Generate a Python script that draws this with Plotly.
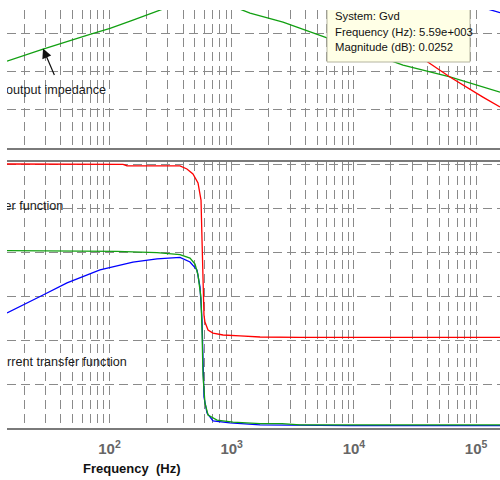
import math
import plotly.graph_objects as go

# ---- upper panel: magnitudes in dB ----
zo_freq = [14.5, 28.6, 69.2, 101, 155.6, 244.7, 300, 400, 500, 570, 650, 800, 1000,
           1334, 1413, 2630, 6370, 20890, 25240, 61090, 157000]
zo_db = [-34.6, -28.3, -20.6, -17.5, -13.2, -8.5, -6.7, -3.5, 2.0, 12.0, 4.0, -2.5, -5.8,
         -8.9, -9.5, -14.2, -23.1, -35.1, -36.7, -42.9, -50.8]

gvd_freq = [14.5, 100, 300, 500, 570, 650, 1000, 2000, 5590, 39900, 61090, 113700, 157000]
gvd_db = [34.0, 34.3, 36.0, 42.0, 50.0, 40.0, 28.0, 17.9, 0.0252, -34.9, -42.9, -53.4, -58.6]

zi_freq = [14.5, 1000, 10000, 50000, 100000, 134900, 157000]
zi_db = [5.0, 5.0, 5.0, 0.0, -5.6, -8.3, -9.3]

# ---- lower panel: linear magnitudes ----
red_freq = [14.5, 129, 139, 377.6, 430, 482, 530, 561, 571.6, 582.3, 593, 604, 640, 703,
            849, 1170, 1706, 3620, 157000]
red_mag = [1.201, 1.199, 1.193, 1.192, 1.178, 1.156, 1.115, 1.037, 0.855, 0.628, 0.514,
           0.482, 0.446, 0.432, 0.423, 0.419, 0.414, 0.412, 0.412]

grn_freq = [14.5, 115, 244.7, 377.6, 455.9, 501, 530, 561, 571.6, 582.3, 604, 640, 758,
            1025, 1706, 2583, 3620, 157000]
grn_mag = [0.807, 0.803, 0.798, 0.789, 0.773, 0.746, 0.696, 0.591, 0.446, 0.241, 0.114,
           0.059, 0.036, 0.027, 0.020, 0.020, 0.014, 0.014]

blu_freq = [14.5, 16.9, 28.6, 44.9, 83.6, 155.6, 244.7, 377.6, 455.9, 520, 550.5, 571.6,
            582.3, 593.1, 628, 703, 968, 1706, 9290, 157000]
blu_mag = [0.523, 0.541, 0.605, 0.660, 0.719, 0.755, 0.769, 0.776, 0.755, 0.719, 0.641,
           0.491, 0.309, 0.141, 0.068, 0.032, 0.023, 0.014, 0.011, 0.011]

# data tip on Gvd
tip_freq = 5590
tip_db = 0.0252

W, H = 500, 480
ML, MR, MT, MB = 7, 0, 10, 52
PW, PH = W - ML - MR, H - MT - MB


def xp(px):
    return (px - ML) / PW


def yp(py):
    return (H - MB - py) / PH


def f_at(px):
    # frequency at a horizontal pixel position
    return 10 ** (1.1612 + (px - ML) / 122.2)


FONT = "Liberation Sans, Arial, sans-serif"
GRID = "#8a8a8a"
DASH = "9px,5px"
AXC = "#7a7a7a"

fig = go.Figure()

lw = 1.3
fig.add_trace(go.Scatter(x=zo_freq, y=zo_db, mode="lines", line=dict(color="#12a012", width=lw),
                         xaxis="x", yaxis="y", showlegend=False, hoverinfo="skip"))
fig.add_trace(go.Scatter(x=gvd_freq, y=gvd_db, mode="lines", line=dict(color="#ff0000", width=lw),
                         xaxis="x", yaxis="y", showlegend=False, hoverinfo="skip"))
fig.add_trace(go.Scatter(x=zi_freq, y=zi_db, mode="lines", line=dict(color="#0000ff", width=lw),
                         xaxis="x", yaxis="y", showlegend=False, hoverinfo="skip"))

fig.add_trace(go.Scatter(x=red_freq, y=red_mag, mode="lines", line=dict(color="#ff0000", width=lw),
                         xaxis="x2", yaxis="y2", showlegend=False, hoverinfo="skip"))
fig.add_trace(go.Scatter(x=blu_freq, y=blu_mag, mode="lines", line=dict(color="#0000ff", width=lw),
                         xaxis="x2", yaxis="y2", showlegend=False, hoverinfo="skip"))
fig.add_trace(go.Scatter(x=grn_freq, y=grn_mag, mode="lines", line=dict(color="#12a012", width=lw),
                         xaxis="x2", yaxis="y2", showlegend=False, hoverinfo="skip"))

# curve labels, clipped at the left edge of the axes
lab_font = dict(family=FONT, size=12.6, color="#1a1a1a")
fig.add_trace(go.Scatter(x=[f_at(6)], y=[-50.0], mode="text", text=["output impedance"],
                         textposition="middle right", textfont=lab_font, cliponaxis=True,
                         xaxis="x", yaxis="y", showlegend=False, hoverinfo="skip"))
fig.add_trace(go.Scatter(x=[f_at(4.5)], y=[1.005], mode="text", text=["er function"],
                         textposition="middle right", textfont=lab_font, cliponaxis=True,
                         xaxis="x2", yaxis="y2", showlegend=False, hoverinfo="skip"))
fig.add_trace(go.Scatter(x=[f_at(7)], y=[0.296], mode="text", text=["rrent transfer function"],
                         textposition="middle right", textfont=lab_font, cliponaxis=True,
                         xaxis="x2", yaxis="y2", showlegend=False, hoverinfo="skip"))

xcommon = dict(type="log", range=[1.1612, 5.1956], showgrid=True, gridcolor=GRID, gridwidth=1,
               griddash=DASH, tickmode="linear", tick0=0, dtick=1, zeroline=False,
               minor=dict(dtick="D1", showgrid=True, gridcolor=GRID, gridwidth=1, griddash=DASH),
               showline=True, linecolor=AXC, linewidth=2, ticks="")

fig.update_layout(
    width=W, height=H,
    margin=dict(l=ML, r=MR, t=MT, b=MB, pad=0),
    paper_bgcolor="white", plot_bgcolor="white",
    xaxis=dict(xcommon, domain=[0, 1], anchor="y", showticklabels=False),
    yaxis=dict(domain=[yp(148), 1], range=[-80, -7.9], anchor="x", tickmode="linear", tick0=-80,
               dtick=20, showgrid=True, gridcolor=GRID, gridwidth=1, griddash=DASH,
               showticklabels=False, zeroline=False, showline=False),
    xaxis2=dict(xcommon, domain=[0, 1], anchor="y2", mirror=True, showticklabels=True,
                exponentformat="power", ticklabelstandoff=7,
                tickfont=dict(family=FONT, size=12, color="#666666", weight="bold")),
    yaxis2=dict(domain=[0, yp(162)], range=[0, 1.21], anchor="x2", tickmode="linear", tick0=0,
                dtick=0.2, showgrid=True, gridcolor=GRID, gridwidth=1, griddash=DASH,
                showticklabels=False, zeroline=False, showline=False),
    font=dict(family=FONT),
)

# arrow pointing at the impedance curve
fig.add_annotation(x=math.log10(f_at(43)), y=-28.0, xref="x", yref="y", text="",
                   showarrow=True, arrowhead=2, arrowsize=1.6, arrowwidth=1.2, arrowcolor="#111111",
                   ax=12, ay=28)

# data tip box for Gvd
x0, x1, y0, y1 = xp(327), xp(470), yp(62), yp(10)
fig.add_shape(type="rect", xref="paper", yref="paper", x0=x0, x1=x1, y0=y0, y1=y1,
              fillcolor="#ffffe6", line=dict(width=0), layer="above")
fig.add_shape(type="path", xref="paper", yref="paper",
              path=f"M {x0},{y1} L {x0},{y0} L {x1},{y0} L {x1},{y1}",
              line=dict(color="#b4b4a0", width=1), layer="above")


def fmt_matlab(v):
    mant, ex = f"{v:.2e}".split("e")
    return f"{mant}e{ex[0]}{int(ex[1:]):03d}"


tip_lines = ["System: Gvd",
             f"Frequency (Hz): {fmt_matlab(tip_freq)}",
             f"Magnitude (dB): {tip_db:.4f}".rstrip("0")]
for line, ypx in zip(tip_lines, [16, 32, 47]):
    fig.add_annotation(x=xp(333), y=yp(ypx), xref="paper", yref="paper", text=line,
                       showarrow=False, xanchor="left", yanchor="middle",
                       font=dict(family=FONT, size=11.3, color="#111111"))

# frequency axis title
fig.add_annotation(x=xp(132), y=yp(468), xref="paper", yref="paper",
                   text="Frequency\u00a0\u00a0(Hz)", showarrow=False, xanchor="center",
                   yanchor="middle", font=dict(family=FONT, size=13, color="#111111", weight="bold"))

fig.write_html("out.html")
